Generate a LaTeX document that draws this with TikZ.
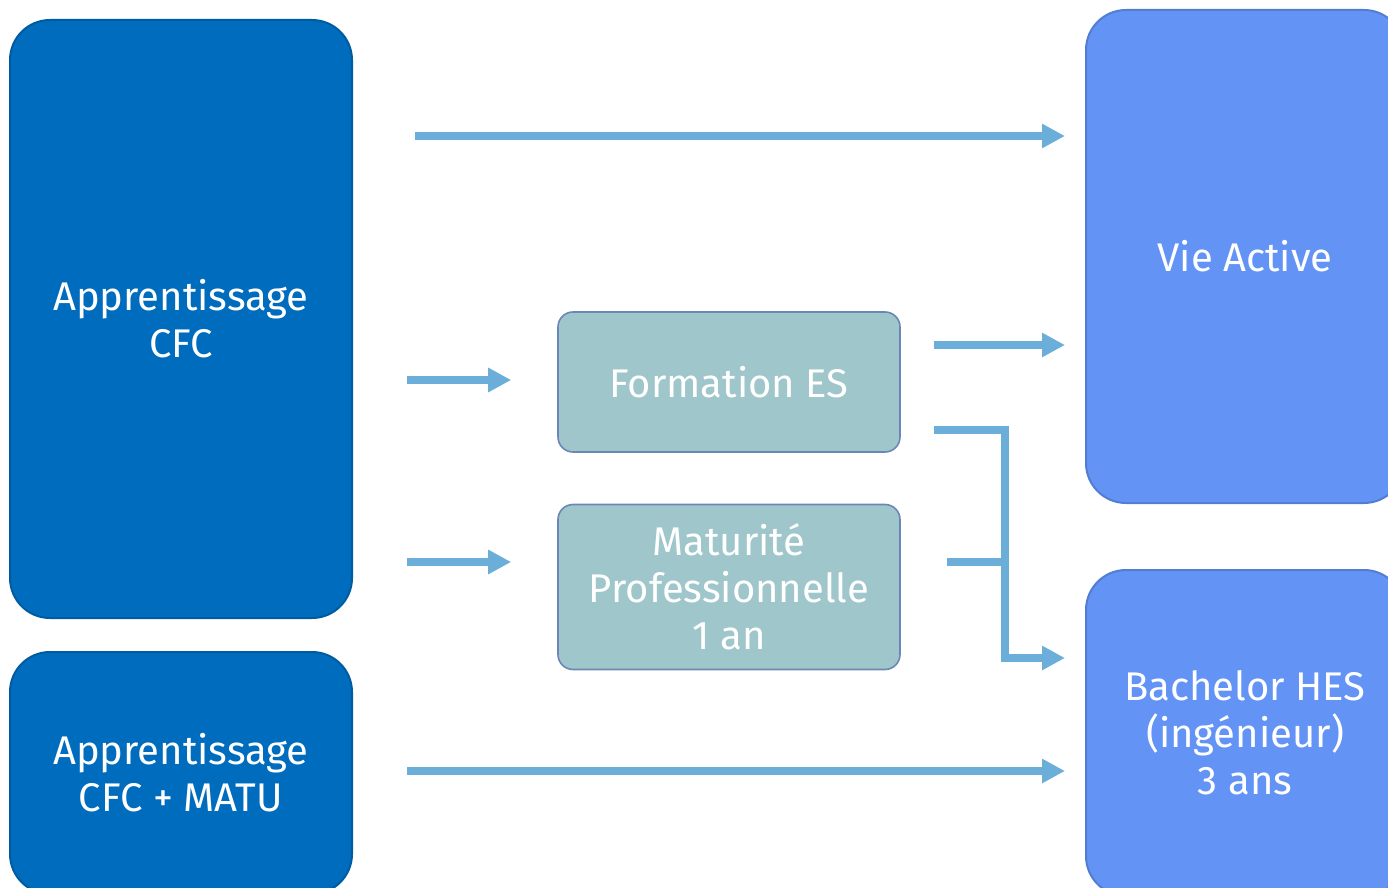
\documentclass[tikz,border=0pt]{standalone}
\usepackage{fontspec}
\setmainfont{Fira Sans}
\usetikzlibrary{arrows.meta,positioning,calc}
\definecolor{bleufonce}{HTML}{006CBE}
\definecolor{bleuclair}{HTML}{6293F5}
\definecolor{turquoise}{HTML}{9FC6CA}
\definecolor{flechebleu}{HTML}{6BAED9}
\tikzset{%
    % Specifications for style of nodes:
    base/.style = {
        rectangle, rounded corners=20pt, inner sep=0pt,
        text centered, align=center, text=white,
        font=\fontsize{20}{23.5}\selectfont,
        minimum width=171pt
    },
    cfc/.style = {base, fill=bleufonce, draw=bleufonce!85!black, line width=1pt},
    etape/.style = {base, rounded corners=7.5pt, fill=turquoise,
        draw=turquoise!80!blue!85!black, line width=0.8pt, minimum width=171pt},
    issue/.style = {base, fill=bleuclair, draw=bleuclair!85!black, line width=1pt,
        minimum width=159pt},
    fleche/.style = {draw=flechebleu, line width=4pt,
        -{Triangle[length=11.5pt,width=11.5pt]}},
    ligne/.style = {draw=flechebleu, line width=4pt}
}
\begin{document}
\begin{tikzpicture}[x=0.5pt,y=-0.5pt]
\useasboundingbox (0,0) rectangle (1388,888);
\clip (0,0) rectangle (1388,888);
% Specification of nodes (position, etc.)
\node (cfc)   [cfc, minimum height=299pt] at (181,319) {Apprentissage\\CFC};
\node (matu)  [cfc, minimum height=121pt] at (181,773) {Apprentissage\\CFC + MATU};
\node (es)    [etape, minimum height=70pt] at (729,382) {Formation ES};
\node (mp)    [etape, minimum height=82.5pt] at (729,587) {Maturité\\Professionnelle\\1 an};
\node (vie)   [issue, minimum height=246.5pt] at (1245,256.5) {Vie Active};
\node (bach)  [issue, minimum height=163pt] at (1245,733) {Bachelor HES\\(ingénieur)\\3 ans};
% Free ends of the connectors
\coordinate (p1) at (415,136);
\coordinate (p2) at (407,380);
\coordinate (p3) at (407,562);
\coordinate (p4) at (934,345);
\coordinate (p5) at (934,430);
\coordinate (p6) at (947,562);
\coordinate (p7) at (407,771);
\coordinate (coude) at (1005,658);
% Specification of paths
\draw[fleche, shorten >=10pt] (p1) -- (vie.west |- p1);
\draw[fleche, shorten >=23pt] (p2) -- (es.west |- p2);
\draw[fleche, shorten >=23pt] (p3) -- (mp.west |- p3);
\draw[fleche, shorten >=10pt] (p4) -- (vie.west |- p4);
\draw[ligne] (p6) -- (coude |- p6);
\draw[fleche, shorten >=10pt] (p5) -| (coude) -- (bach.west |- coude);
\draw[fleche, shorten >=10pt] (p7) -- (bach.west |- p7);
\end{tikzpicture}
\end{document}
